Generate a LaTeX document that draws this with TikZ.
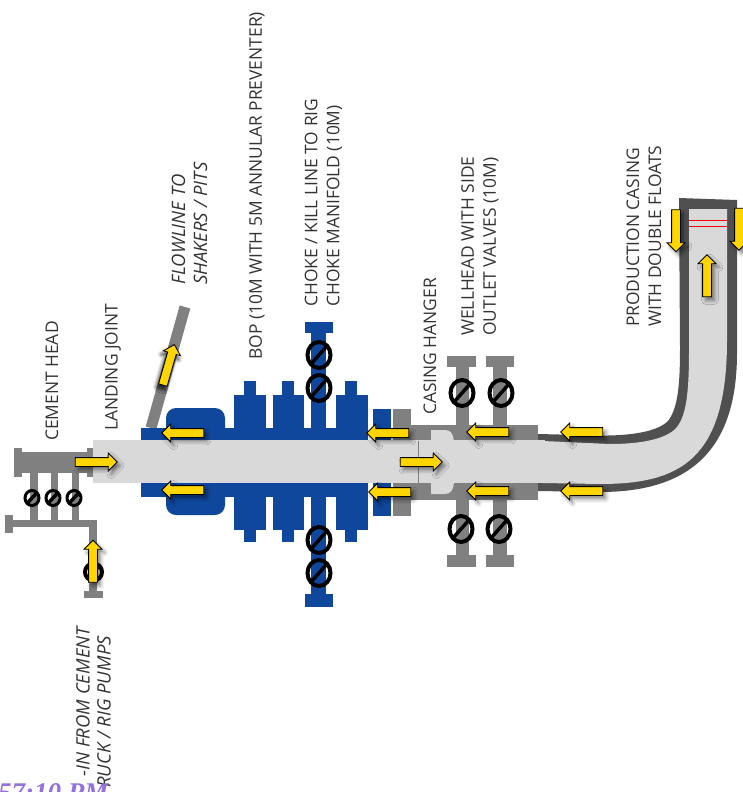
\documentclass[tikz,border=0pt]{standalone}
\usepackage{fontspec}
\setmainfont{Open Sans}
\newfontfamily\stampfont{Liberation Serif}
\usepackage{xcolor}
\usetikzlibrary{shapes.geometric, shapes.arrows, shadows.blur}
\definecolor{pipegray}{HTML}{808080}
\definecolor{casingdark}{HTML}{505050}
\definecolor{boregray}{HTML}{D9D9D9}
\definecolor{bopblue}{HTML}{0F479D}
\definecolor{flowyellow}{HTML}{FFD500}
\definecolor{stamppurple}{HTML}{9370DB}

\begin{document}
\begin{tikzpicture}[
        x=1pt, y=-1pt,
        steel/.style={fill=pipegray},
        bop/.style={fill=bopblue},
        casing/.style={fill=casingdark},
        bore/.style={fill=boregray},
        flowarrow/.style={single arrow, draw=black, fill=flowyellow, line width=0.8pt, inner sep=4pt,
            text height=0pt, text depth=0pt, text width=0pt, outer sep=0pt,
            minimum height=42pt, minimum width=17pt, single arrow head extend=4.5pt,
            blur shadow={shadow xshift=3pt, shadow yshift=-3.5pt, shadow blur radius=4pt, shadow opacity=50}},
        valve/.style={ellipse, draw=black, line width=4pt, inner sep=0pt, minimum width=23pt, minimum height=26pt,
            path picture={\draw[black, line width=3.5pt] (path picture bounding box.south west) -- (path picture bounding box.north east);}},
        smallvalve/.style={valve, line width=3pt, minimum width=14pt, minimum height=15pt},
        caption/.style={rotate=90, anchor=west, align=left, inner sep=0pt, text=black!80,
            font=\fontsize{17.4}{22}\selectfont},
        slanted/.style={caption, font=\fontsize{18.5}{22}\selectfont\itshape}
    ]
        \useasboundingbox (0,0) rectangle (743,792);

        % cement head
        \fill[steel] (14,448) rectangle (22,477);
        \fill[steel] (14,452) rectangle (95,473);
        \fill[steel] (87,448) rectangle (95,477);
        \fill[steel] (30,473) rectangle (38,520);
        \fill[steel] (51,473) rectangle (58,520);
        \fill[steel] (72,473) rectangle (79,520);
        \fill[steel] (5,515) rectangle (13,533);
        \fill[steel] (13,520) rectangle (97,527);
        \fill[steel] (89,520) rectangle (97,592);
        \fill[steel] (84,591) rectangle (103,598);

        % flowline
        \draw[pipegray, line width=11pt] (185,307) -- (151,428);

        % bop stack
        \fill[bop, rounded corners=10pt] (166,408) rectangle (225,515);
        \fill[bop] (141,428) rectangle (368,497);
        \fill[bop] (234,395) rectangle (266,530);
        \fill[bop] (244,381) rectangle (256,542);
        \fill[bop] (273,395) rectangle (304,530);
        \fill[bop] (282,381) rectangle (294,542);
        \fill[bop] (336,395) rectangle (368,530);
        \fill[bop] (345,381) rectangle (357,542);
        \fill[bop] (311,333) rectangle (326,595);
        \fill[bop] (305,322) rectangle (333,333);
        \fill[bop] (305,594) rectangle (333,607);
        \fill[bop] (373,409) rectangle (391,516);

        % wellhead
        \fill[steel] (393,409) rectangle (411,516);
        \fill[steel] (411,425) rectangle (538,500);
        \fill[steel] (456,367) rectangle (469,555);
        \fill[steel] (447,356) rectangle (476,367);
        \fill[steel] (447,555) rectangle (476,567);
        \fill[steel] (493,367) rectangle (507,555);
        \fill[steel] (486,356) rectangle (514,367);
        \fill[steel] (486,555) rectangle (514,567);

        % production casing
        \fill[casing] (538,434) -- (580,435) .. controls (620,437) and (655,434) .. (668,421)
            .. controls (678,408) and (680,385) .. (680,347) -- (679,198) -- (737,200) -- (737,353)
            .. controls (737,450) and (690,492) .. (600,492) -- (538,491) -- cycle;
        \fill[bore] (543,441) -- (610,444) .. controls (650,444) and (670,436) .. (677,427)
            .. controls (686,415) and (689,395) .. (689,350) -- (689,209) -- (727,209) -- (727,340)
            .. controls (727,460) and (680,484) .. (600,484) -- (543,483) -- cycle;
        \fill[bore] (93,440) rectangle (545,483);
        \fill[bore] (431,430) -- (445,430) .. controls (451,430) and (453,434) .. (454,441)
            -- (454,483) .. controls (453,490) and (451,494) .. (445,494) -- (431,494) -- cycle;
        \draw[pipegray, line width=1pt] (418,441) -- (418,483);
        \draw[red, line width=0.9pt] (689,220) -- (727,220);
        \draw[red, line width=0.9pt] (689,226.5) -- (727,226.5);

        % valves
        \node[smallvalve] (head1) at (32,498) {};
        \node[smallvalve] (head2) at (53,498) {};
        \node[smallvalve] (head3) at (74,498) {};
        \node[valve, minimum width=17pt, minimum height=17pt] (pump) at (93.5,572) {};
        \node[valve] (choke1) at (319,355) {};
        \node[valve] (choke2) at (319,388) {};
        \node[valve] (kill1) at (319,540) {};
        \node[valve] (kill2) at (319,573) {};
        \node[valve] (side1) at (462,393) {};
        \node[valve] (side2) at (501,393) {};
        \node[valve] (side3) at (461,529) {};
        \node[valve] (side4) at (499,529) {};

        % flow arrows
        \node[flowarrow, shape border rotate=90] (pumpin) at (93,563.5) {};
        \node[flowarrow] (headin) at (94,462) {};
        \node[flowarrow, rotate=74, blur shadow={shadow xshift=-2pt, shadow yshift=-3.7pt}] (flowout) at (168,367) {};
        \node[flowarrow, shape border rotate=180] (bopa) at (185,433) {};
        \node[flowarrow, shape border rotate=180] (bopb) at (185,490) {};
        \node[flowarrow, shape border rotate=180] (bopc) at (390,433) {};
        \node[flowarrow, shape border rotate=180] (bopd) at (392,492) {};
        \node[flowarrow] (hanger) at (419,462) {};
        \node[flowarrow, shape border rotate=180] (wella) at (490,432) {};
        \node[flowarrow, shape border rotate=180] (wellb) at (490,491) {};
        \node[flowarrow, shape border rotate=180] (casa) at (584,432) {};
        \node[flowarrow, shape border rotate=180] (casb) at (584,491) {};
        \node[flowarrow, shape border rotate=270] (shoea) at (676,228.5) {};
        \node[flowarrow, shape border rotate=270] (shoeb) at (739,227) {};
        \node[flowarrow, shape border rotate=90] (shoec) at (707,278) {};

        % labels
        \node[caption] (cementhead) at (52,441) {CEMENT HEAD};
        \node[caption] (landing) at (113,431) {LANDING JOINT};
        \node[slanted] (flowline) at (189.5,285) {FLOWLINE TO\\SHAKERS / PITS};
        \node[caption] (boplabel) at (257,360) {BOP (10M WITH 5M ANNULAR PREVENTER)};
        \node[caption] (choke) at (323.5,307) {CHOKE / KILL LINE TO RIG\\CHOKE MANIFOLD (10M)};
        \node[caption] (hangerlabel) at (430,415) {CASING HANGER};
        \node[caption] (wellhead) at (480,336) {WELLHEAD WITH SIDE\\OUTLET VALVES (10M)};
        \node[caption] (production) at (644,327) {PRODUCTION CASING\\WITH DOUBLE FLOATS};
        \node[slanted, anchor=east] (pumpa) at (83,627) {-IN FROM CEMENT};
        \node[slanted, anchor=east] (pumpb) at (104,636) {RUCK / RIG PUMPS};
        \node[anchor=base west, inner sep=0pt, text=stamppurple, font=\fontsize{27}{27}\stampfont\bfseries\itshape] (stamp) at (-2,801) {57:10 PM};
    \end{tikzpicture}
\end{document}
